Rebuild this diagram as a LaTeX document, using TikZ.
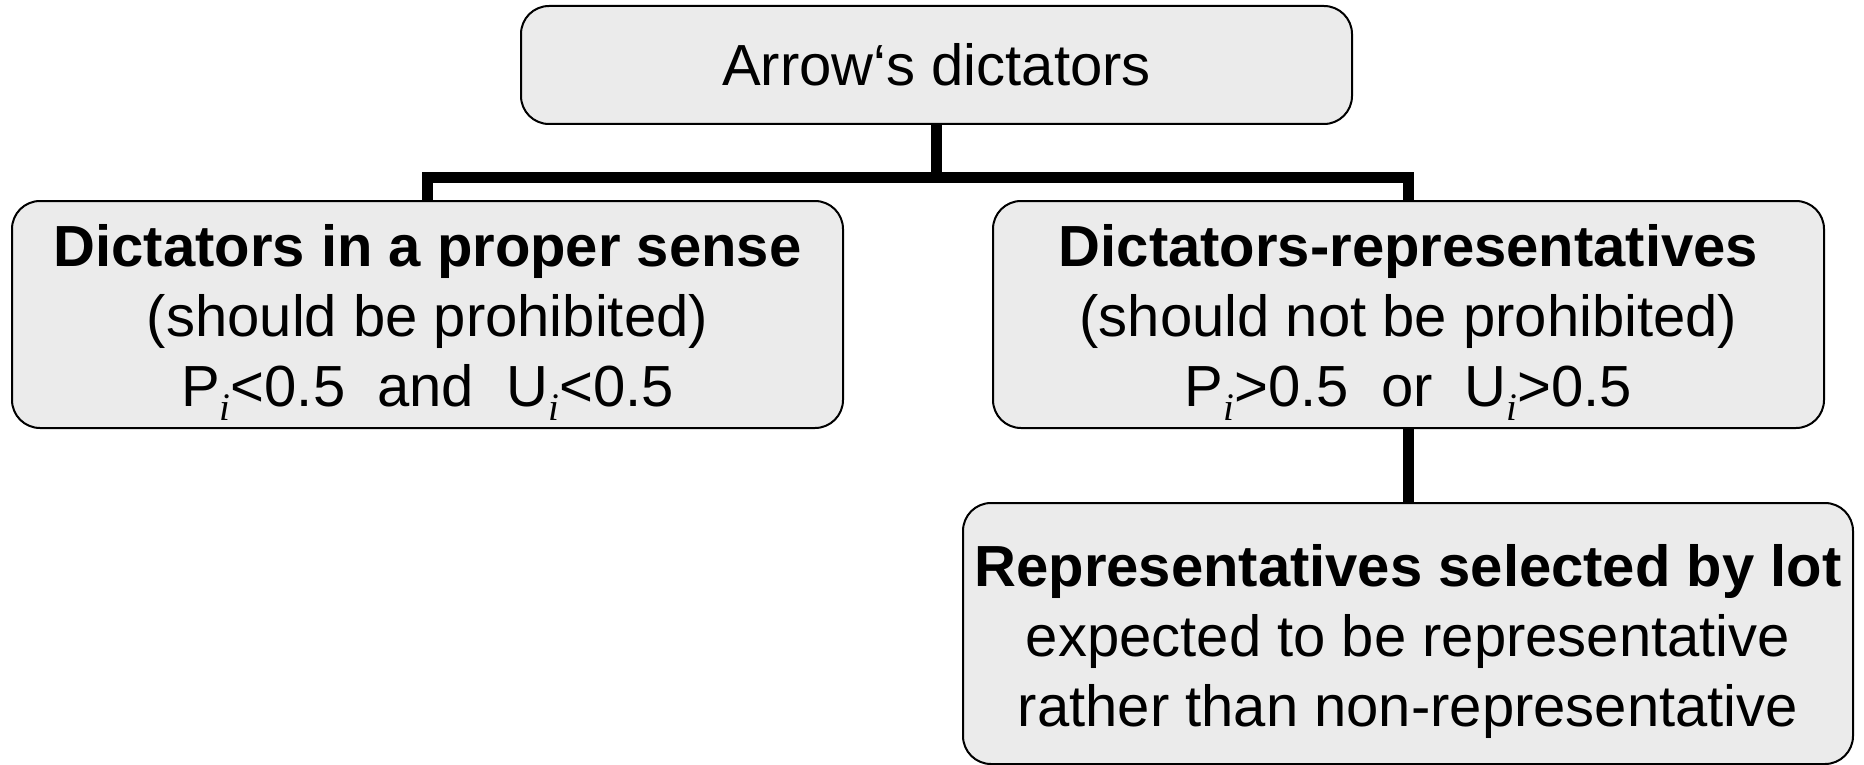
\documentclass[tikz,border=0pt]{standalone}
\usepackage{fontspec}
\setmainfont{Liberation Sans}
\newfontfamily\serifi{Liberation Serif}
\newcommand\subi{\raisebox{-14pt}{\fontsize{39}{39}\selectfont\serifi\itshape i}}
\newcommand\topstrut{\rule{0pt}{58pt}}
\definecolor{boxfill}{HTML}{EBEBEB}
\begin{document}
\begin{tikzpicture}[x=1pt,y=-1pt,
  box/.style={draw=black,line width=2pt,fill=boxfill,rounded corners=28pt,
    align=center,inner sep=0pt,font=\fontsize{58}{70}\selectfont},
  conn/.style={line width=11.5pt,black}]
\useasboundingbox (0,0) rectangle (1864,765);
\node[box,minimum width=831pt,minimum height=118pt] (top) at (936.5,65) {Arrow‘s dictators};
\node[box,minimum width=831pt,minimum height=227pt] (left) at (427.5,314.5)
  {\topstrut\textbf{Dictators in a proper sense}\\(should be prohibited)\\P\subi<0.5\ \ and\ \ U\subi<0.5};
\node[box,minimum width=831pt,minimum height=227pt] (right) at (1408.5,314.5)
  {\topstrut\textbf{Dictators-representatives}\\(should not be prohibited)\\P\subi>0.5\ \ or\ \ U\subi>0.5};
\node[box,minimum width=890pt,minimum height=261pt] (bottom) at (1408,633.5)
  {\topstrut\textbf{Representatives selected by lot}\\expected to be representative\\rather than non-representative};
\coordinate (j) at (936.5,177.5);
\draw[conn] (top.south) -- (j);
\draw[conn] (left.north) |- (j) -| (right.north);
\draw[conn] (right.south) -- (right.south |- bottom.north);
\end{tikzpicture}
\end{document}
